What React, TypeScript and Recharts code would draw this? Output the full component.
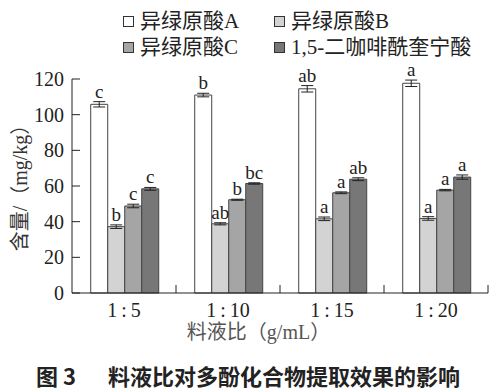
import React from 'react';
import { BarChart, Bar, XAxis, YAxis, ErrorBar, LabelList } from 'recharts';

const ratios = ['1\u2009:\u20095', '1\u2009:\u200910', '1\u2009:\u200915', '1\u2009:\u200920'];
const seriesNames = ['异绿原酸A', '异绿原酸B', '异绿原酸C', '1,5-二咖啡酰奎宁酸'];
const acidA = [105.8, 111.0, 114.5, 117.6];
const acidB = [37.2, 38.8, 41.6, 41.8];
const acidC = [48.8, 52.3, 56.2, 57.7];
const acidD = [58.4, 61.4, 63.8, 65.0];
const errA = [1.5, 1.0, 1.8, 1.8];
const errB = [1.0, 0.6, 1.0, 1.0];
const errC = [1.0, 0.3, 0.5, 0.4];
const errD = [0.8, 0.4, 0.8, 1.2];
const letterA = ['c', 'b', 'ab', 'a'];
const letterB = ['b', 'ab', 'a', 'a'];
const letterC = ['c', 'b', 'a', 'a'];
const letterD = ['c', 'bc', 'ab', 'a'];
const yTicks = [0, 20, 40, 60, 80, 100, 120];

const W = 503;
const H = 390;
const TOP = 79;
const LEFT = 72;
const RIGHT = 15;
const XAXIS_H = 30;
const BOTTOM = 67;
const AXIS_Y = H - BOTTOM - XAXIS_H;
const PX_PER_UNIT = (AXIS_Y - TOP) / 120;
const BAND = (W - LEFT - RIGHT) / ratios.length;

const colors = ['#ffffff', '#d3d3d3', '#a5a5a5', '#777777'];
const serif = '"Liberation Serif", "Noto Sans CJK SC", serif';

const data = ratios.map((r, i) => ({
  ratio: r,
  a: acidA[i], b: acidB[i], c: acidC[i], d: acidD[i],
  ea: errA[i], eb: errB[i], ec: errC[i], ed: errD[i],
}));

const keys = [
  { k: 'a', e: 'ea', letters: letterA, errs: errA },
  { k: 'b', e: 'eb', letters: letterB, errs: errB },
  { k: 'c', e: 'ec', letters: letterC, errs: errC },
  { k: 'd', e: 'ed', letters: letterD, errs: errD },
];

const XTick = (props: any) => {
  const { x, payload } = props;
  return (
    <g>
      <line x1={x + BAND / 2} x2={x + BAND / 2} y1={AXIS_Y} y2={AXIS_Y - 8} stroke="#222" />
      <text x={x} y={AXIS_Y + 24} textAnchor="middle" fontSize={20} fontFamily={serif} fill="#222">
        {payload.value}
      </text>
    </g>
  );
};

const YTick = (props: any) => {
  const { y, payload } = props;
  return (
    <g>
      <line x1={LEFT} x2={LEFT + 8} y1={y} y2={y} stroke="#222" />
      <text x={LEFT - 8} y={y + 7} textAnchor="end" fontSize={20} fontFamily={serif} fill="#222">
        {payload.value}
      </text>
    </g>
  );
};

const makeLetter = (letters: string[], errs: number[]) => (props: any) => {
  const { x, y, width, index } = props;
  return (
    <text
      x={x + width / 2}
      y={y - errs[index] * PX_PER_UNIT - 4}
      textAnchor="middle"
      fontSize={19}
      fontFamily={serif}
      fill="#222"
    >
      {letters[index]}
    </text>
  );
};

const LegendItem = ({ color, label, left, top }: any) => (
  <div style={{ position: 'absolute', left, top, display: 'flex', alignItems: 'center', fontFamily: serif, fontSize: 21, lineHeight: 1, color: '#222', whiteSpace: 'nowrap' }}>
    <span style={{ width: 9, height: 9, border: '1px solid #333', background: color, marginRight: 6, display: 'inline-block' }} />
    {label}
  </div>
);

export default function App() {
  return (
    <div style={{ position: 'absolute', left: 0, top: 0, width: W, height: H, background: '#fff' }}>
      <BarChart
        width={W}
        height={H}
        data={data}
        margin={{ top: TOP, right: RIGHT, left: 0, bottom: BOTTOM }}
        barCategoryGap="18%"
        barGap={0}
      >
        <XAxis
          dataKey="ratio"
          height={XAXIS_H}
          tickLine={false}
          axisLine={{ stroke: '#222' }}
          tick={<XTick />}
          interval={0}
        />
        <YAxis
          width={LEFT}
          domain={[0, 120]}
          ticks={yTicks}
          tickLine={false}
          axisLine={{ stroke: '#222' }}
          tick={<YTick />}
          interval={0}
        />
        {keys.map((s, i) => (
          <Bar key={s.k} dataKey={s.k} fill={colors[i]} stroke="#444" strokeWidth={1} isAnimationActive={false}>
            <ErrorBar dataKey={s.e} width={6} stroke="#222" strokeWidth={1} />
            <LabelList dataKey={s.k} content={makeLetter(s.letters, s.errs)} />
          </Bar>
        ))}
      </BarChart>
      <LegendItem color={colors[0]} label={seriesNames[0]} left={123} top={11} />
      <LegendItem color={colors[1]} label={seriesNames[1]} left={274} top={11} />
      <LegendItem color={colors[2]} label={seriesNames[2]} left={123} top={37} />
      <LegendItem color={colors[3]} label={seriesNames[3]} left={274} top={37} />
      <div style={{ position: 'absolute', left: 8, top: 183, transform: 'translate(-50%, -50%) rotate(-90deg)', transformOrigin: 'center', marginLeft: 12, fontFamily: serif, fontSize: 20, lineHeight: 1, color: '#333', whiteSpace: 'nowrap' }}>
        含量/（mg/kg）
      </div>
      <div style={{ position: 'absolute', left: 0, width: W, top: 322, textAlign: 'center', paddingLeft: 14, boxSizing: 'border-box', fontFamily: serif, fontSize: 20, lineHeight: 1, color: '#555', whiteSpace: 'nowrap' }}>
        料液比（g/mL）
      </div>
      <div style={{ position: 'absolute', left: 36, top: 364, fontFamily: '"Noto Sans CJK SC", sans-serif', fontWeight: 700, fontSize: 22, lineHeight: 1, color: '#222', whiteSpace: 'nowrap' }}>
        图 3<span style={{ marginLeft: 32 }}>料液比对多酚化合物提取效果的影响</span>
      </div>
    </div>
  );
}
